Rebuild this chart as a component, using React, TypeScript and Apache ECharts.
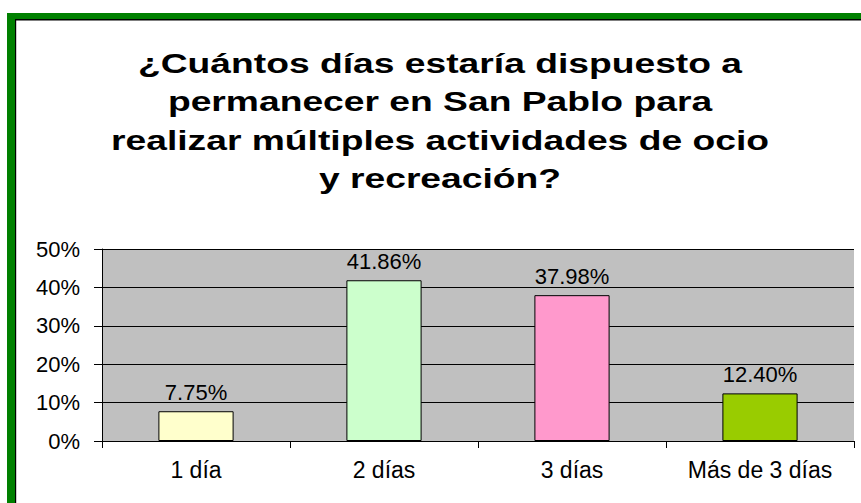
import React, { useEffect, useRef } from "react";
import * as echarts from "echarts";

const categories = ["1 día", "2 días", "3 días", "Más de 3 días"];
const values = [7.75, 41.86, 37.98, 12.4];
const barColors = ["#ffffcc", "#ccffcc", "#ff99cc", "#99cc00"];
const titleLines = [
  "¿Cuántos días estaría dispuesto a",
  "permanecer en San Pablo para",
  "realizar múltiples actividades de ocio",
  "y recreación?",
];
const yMax = 50;
const yInterval = 10;

export default function App() {
  const ref = useRef<HTMLDivElement>(null);
  useEffect(() => {
    if (!ref.current) return;
    const chart = echarts.init(ref.current, undefined, { renderer: "svg" });
    const font = '"Liberation Sans", Arial, sans-serif';
    const titleGraphics = titleLines.map((t, i) => ({
      type: "text",
      x: 440,
      y: 63 + i * 38.4,
      scaleX: 1.33,
      z: 10,
      style: {
        text: t,
        font: `bold 28px ${font}`,
        fill: "#000",
        textAlign: "center",
        textVerticalAlign: "middle",
        align: "center",
        verticalAlign: "middle",
      },
    }));
    chart.setOption({
      animation: false,
      backgroundColor: "#ffffff",
      textStyle: { fontFamily: font },
      graphic: [
        { type: "rect", shape: { x: 7, y: 13, width: 860, height: 6 }, style: { fill: "#008000" } },
        { type: "rect", shape: { x: 7, y: 13, width: 8, height: 500 }, style: { fill: "#008000" } },
        { type: "rect", shape: { x: 15, y: 19, width: 850, height: 1.5 }, style: { fill: "#000" } },
        { type: "rect", shape: { x: 15, y: 19, width: 1.2, height: 500 }, style: { fill: "#000" } },
        ...titleGraphics,
      ],
      grid: {
        left: 102,
        right: 7,
        top: 249,
        bottom: 62,
        show: true,
        backgroundColor: "#c0c0c0",
        borderWidth: 0,
      },
      xAxis: {
        type: "category",
        data: categories,
        axisLine: { show: true, lineStyle: { color: "#000", width: 1 } },
        axisTick: { show: true, length: 7, lineStyle: { color: "#000" } },
        axisLabel: { color: "#000", fontSize: 23, fontFamily: font, margin: 17 },
        splitLine: { show: false },
      },
      yAxis: {
        type: "value",
        min: 0,
        max: yMax,
        interval: yInterval,
        axisLine: { show: true, lineStyle: { color: "#000", width: 1 } },
        axisTick: { show: true, length: 8, lineStyle: { color: "#000" } },
        axisLabel: {
          color: "#000",
          fontSize: 22,
          fontFamily: font,
          margin: 22,
          formatter: (v: number) => `${v}%`,
        },
        splitLine: { show: true, lineStyle: { color: "#000", width: 1 } },
      },
      series: [
        {
          type: "bar",
          data: values.map((v, i) => ({
            value: v,
            itemStyle: { color: barColors[i], borderColor: "#000", borderWidth: 1 },
          })),
          barWidth: "40%",
          label: {
            show: true,
            position: "top",
            distance: 8,
            color: "#000",
            fontSize: 22,
            fontFamily: font,
            formatter: (p: any) => `${Number(p.value).toFixed(2)}%`,
          },
        },
      ],
    });
    return () => chart.dispose();
  }, []);
  return (
    <div
      ref={ref}
      style={{ position: "fixed", left: 0, top: 0, width: 861, height: 503 }}
    />
  );
}
